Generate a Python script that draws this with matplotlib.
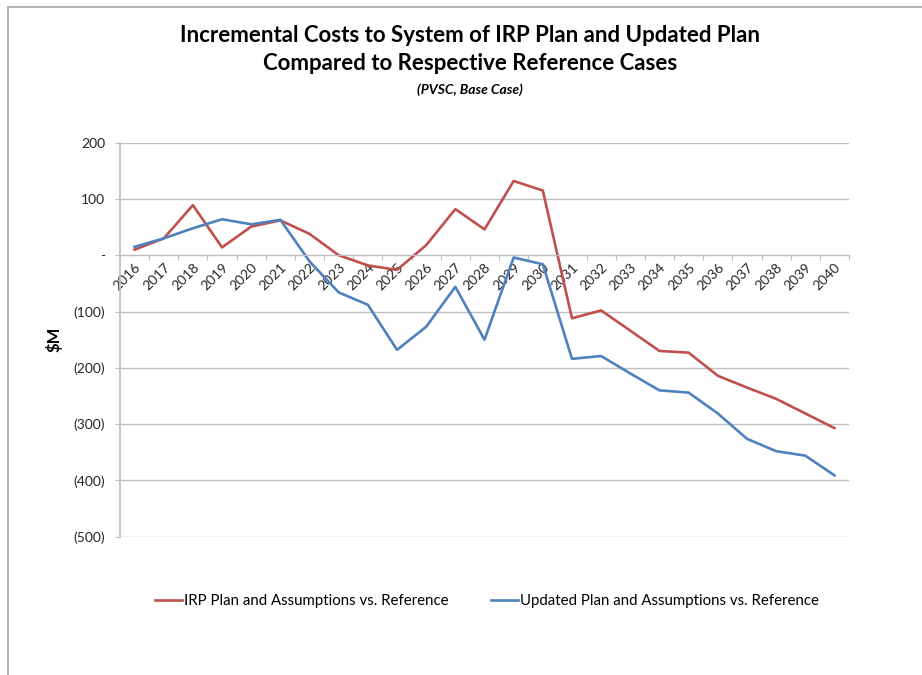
import numpy as np
import matplotlib
matplotlib.use("Agg")
import matplotlib.pyplot as plt
from matplotlib.lines import Line2D
from matplotlib.ticker import FuncFormatter, FixedLocator

plt.rcParams['font.family'] = ['Lato', 'DejaVu Sans']

years = [str(y) for y in range(2016, 2041)]
irp_vs_ref = [10, 30, 89, 14, 51, 62, 38, 0, -18, -26, 18, 82, 46, 132, 115,
              -112, -98, -134, -170, -173, -214, -235, -255, -281, -307]
updated_vs_ref = [15, 30, 48, 64, 55, 63, -11, -66, -88, -168, -127, -56, -150, -4, -16,
                  -184, -179, -210, -240, -244, -281, -326, -348, -356, -391]
series_labels = ["IRP Plan and Assumptions vs. Reference",
                 "Updated Plan and Assumptions vs. Reference"]

RED = "#C0504D"
BLUE = "#4F81BD"
GRID = "#BFBFBF"
TXT = "#262626"

W, H = 922, 675
fig = plt.figure(figsize=(W / 100, H / 100), dpi=100)
ax = fig.add_axes([120 / W, 1 - 536.7 / H, (849 - 120) / W, (536.7 - 142.7) / H])

x = np.arange(len(years))
ax.plot(x, irp_vs_ref, color=RED, lw=1.9, label=series_labels[0])
ax.plot(x, updated_vs_ref, color=BLUE, lw=1.9, label=series_labels[1])

ax.set_xlim(-0.5, len(years) - 0.5)
ax.set_ylim(-500, 200)
ax.set_yticks(range(-500, 201, 100))

# spines first: moving the spine resets the ticks
ax.spines["bottom"].set_position(("data", 0))
ax.spines["bottom"].set_color(GRID)
ax.spines["left"].set_color(GRID)
ax.spines["left"].set_linewidth(1.2)
for s in ["top", "right"]:
    ax.spines[s].set_visible(False)


def money(v, pos):
    if v == 0:
        return "-"
    if v < 0:
        return f"({abs(int(v))})"
    return f"{int(v)}"


ax.yaxis.set_major_formatter(FuncFormatter(money))
ax.grid(axis="y", color=GRID, lw=1.0)
ax.set_axisbelow(True)

# category ticks between points, labels centered on points
ax.xaxis.set_major_locator(FixedLocator(np.arange(-0.5, len(years), 1.0)))
ax.xaxis.set_minor_locator(FixedLocator(x))
ax.set_xticklabels([])
ax.set_xticklabels(years, minor=True)
ax.tick_params(axis="x", which="major", length=3.6, color=GRID, direction="out")
ax.tick_params(axis="x", which="minor", length=0, pad=4, labelsize=10, labelcolor=TXT)
for lbl in ax.get_xticklabels(minor=True):
    lbl.set_rotation(45)
    lbl.set_ha("right")
    lbl.set_va("top")
    lbl.set_rotation_mode("anchor")
ax.tick_params(axis="y", length=3.6, color=GRID, labelsize=10, labelcolor=TXT, pad=7)

ax.set_ylabel("$M", fontsize=12, fontweight="bold", labelpad=8)

fig.text(470 / W, 1 - 35 / H, "Incremental Costs to System of IRP Plan and Updated Plan",
         ha="center", va="center", fontsize=16, fontweight="bold")
fig.text(470 / W, 1 - 63 / H, "Compared to Respective Reference Cases",
         ha="center", va="center", fontsize=16, fontweight="bold")
fig.text(470 / W, 1 - 90 / H, "(PVSC, Base Case)",
         ha="center", va="center", fontsize=10, fontweight="bold", style="italic")

fig.legend(loc="center", bbox_to_anchor=(487 / W, 1 - 601 / H), ncol=2, frameon=False,
           fontsize=10.8, handlelength=1.8, handletextpad=0.15, columnspacing=2.8)

# outer chart frame
fig.add_artist(Line2D([8 / W, 8 / W], [0, 1 - 7 / H], color="#A6A6A6", lw=1.2))
fig.add_artist(Line2D([8 / W, 1], [1 - 7 / H, 1 - 7 / H], color="#A6A6A6", lw=1.2))

fig.savefig("out.png", dpi=100)
